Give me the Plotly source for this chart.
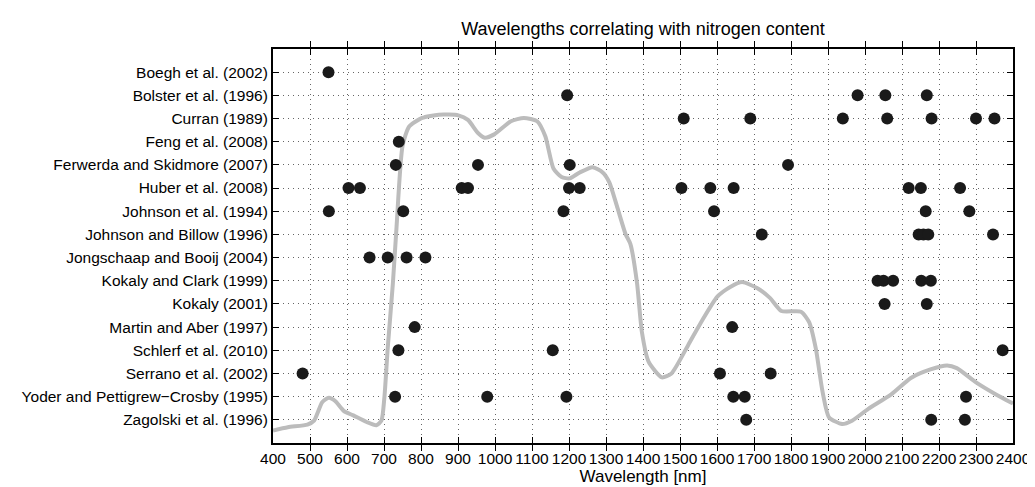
import plotly.graph_objects as go

# studies, top to bottom
studies = [
    'Boegh et al. (2002)',
    'Bolster et al. (1996)',
    'Curran (1989)',
    'Feng et al. (2008)',
    'Ferwerda and Skidmore (2007)',
    'Huber et al. (2008)',
    'Johnson et al. (1994)',
    'Johnson and Billow (1996)',
    'Jongschaap and Booij (2004)',
    'Kokaly and Clark (1999)',
    'Kokaly (2001)',
    'Martin and Aber (1997)',
    'Schlerf et al. (2010)',
    'Serrano et al. (2002)',
    'Yoder and Pettigrew\u2212Crosby (1995)',
    'Zagolski et al. (1996)',
]

# wavelengths [nm] reported by each study
wavelengths = [
    [550],
    [1195, 1980, 2055, 2167],
    [1510, 1690, 1940, 2060, 2180, 2300, 2350],
    [740],
    [732, 954, 1202, 1792],
    [604, 635, 910, 927, 1200, 1229, 1504, 1582, 1645, 2118, 2151, 2257],
    [551, 752, 1185, 1592, 2164, 2282],
    [1721, 2145, 2158, 2171, 2346],
    [661, 710, 761, 812],
    [2034, 2050, 2076, 2152, 2178],
    [2053, 2167],
    [783, 1641],
    [739, 1156, 2372],
    [480, 1608, 1745],
    [730, 979, 1193, 1644, 1675, 2273],
    [1679, 2179, 2270],
]

# typical vegetation reflectance spectrum (background curve)
spectrum_nm = [400, 440, 493, 511, 533, 551, 568, 591, 617, 653, 679, 693, 701, 710,
               724, 734, 750, 768, 803, 848, 901, 927, 954, 972, 998, 1043, 1078, 1114,
               1136, 1158, 1180, 1202, 1229, 1264, 1291, 1309, 1331, 1353, 1366, 1384,
               1397, 1415, 1451, 1477, 1522, 1557, 1601, 1637, 1668, 1708, 1743, 1774,
               1827, 1849, 1867, 1885, 1903, 1938, 1965, 2009, 2071, 2124, 2177, 2222,
               2248, 2301, 2354, 2400]
spectrum_refl = [0.019, 0.024, 0.028, 0.034, 0.062, 0.069, 0.064, 0.049, 0.042, 0.032,
                 0.027, 0.034, 0.069, 0.144, 0.243, 0.33, 0.452, 0.482, 0.495, 0.500,
                 0.499, 0.492, 0.472, 0.465, 0.470, 0.490, 0.495, 0.490, 0.467, 0.418,
                 0.405, 0.403, 0.412, 0.420, 0.412, 0.397, 0.358, 0.318, 0.303, 0.243,
                 0.169, 0.124, 0.100, 0.106, 0.149, 0.184, 0.223, 0.238, 0.245, 0.236,
                 0.221, 0.201, 0.200, 0.184, 0.144, 0.079, 0.039, 0.029, 0.034, 0.052,
                 0.074, 0.099, 0.112, 0.118, 0.114, 0.092, 0.074, 0.060]

xticks = list(range(400, 2401, 100))

xs = []
ys = []
for study, wl in zip(studies, wavelengths):
    for w in wl:
        xs.append(w)
        ys.append(study)

font = 'Liberation Sans, Arial, Helvetica, sans-serif'

fig = go.Figure()
# spectrum on the hidden axis, drawn below the dots
fig.add_trace(go.Scatter(x=spectrum_nm, y=spectrum_refl, mode='lines',
                         line=dict(color='#bcbcbc', width=4, shape='spline', smoothing=0.6),
                         yaxis='y', hoverinfo='skip'))
fig.add_trace(go.Scatter(x=xs, y=ys, mode='markers',
                         marker=dict(size=12, color='#1a1a1a'), yaxis='y2'))

fig.update_layout(
    width=1035, height=487,
    margin=dict(l=265, r=18, t=41, b=44),
    paper_bgcolor='white', plot_bgcolor='white',
    showlegend=False,
    font=dict(family=font, size=15.5, color='black'),
    title=dict(text='Wavelengths correlating with nitrogen content', x=0.5, xref='paper',
               y=0.957, yref='container', yanchor='middle', font=dict(size=18)),
    xaxis=dict(range=[400, 2400], tickvals=xticks, ticks='inside', ticklen=6,
               tickcolor='black', showline=True, linecolor='black', linewidth=2,
               mirror='allticks', showgrid=True, gridcolor='#666666', gridwidth=1,
               griddash='1px,4px', zeroline=False,
               title=dict(text='Wavelength [nm]', standoff=5, font=dict(size=17))),
    yaxis=dict(range=[0, 0.6], visible=False),
    yaxis2=dict(overlaying='y', side='left', type='category', categoryorder='array',
                categoryarray=studies, range=[16, -1], ticks='inside', ticklen=6,
                tickcolor='black', showline=True, linecolor='black', linewidth=2,
                mirror='allticks', showgrid=True, gridcolor='#666666', gridwidth=1,
                griddash='1px,4px', zeroline=False),
)

fig.write_html('out.html')
